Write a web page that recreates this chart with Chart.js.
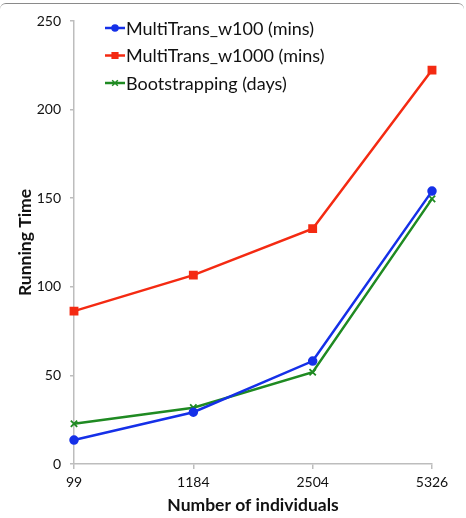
<!DOCTYPE html>
<html>
<head>
<meta charset="utf-8">
<script src="https://cdn.jsdelivr.net/npm/chart.js@4/dist/chart.umd.min.js"></script>
<style>
  html, body { margin: 0; padding: 0; background: #fff; }
  #wrap { position: relative; width: 466px; height: 518px; overflow: hidden; }
  #frame { position: absolute; left: 0; top: 3px; width: 464px; height: 10px;
           border-top: 1.5px solid #8a8a8a; border-radius: 6px 6px 0 0; box-sizing: border-box; }
  canvas { position: absolute; left: 0; top: 0; }
</style>
</head>
<body>
<div id="wrap">
  <canvas id="chart" width="466" height="518"></canvas>
  <div id="frame"></div>
</div>
<script>
const categories = ['99', '1184', '2504', '5326']
const w100 = [13.5, 29.2, 58.1, 154]
const w1000 = [86.3, 106.6, 132.8, 222.3]
const bootstrapping = [22.7, 31.8, 51.8, 149.6]
const seriesNames = ['MultiTrans_w100 (mins)', 'MultiTrans_w1000 (mins)', 'Bootstrapping (days)']

const FONT = 'Lato, "Liberation Sans", sans-serif'

// legend drawn inside the plot, top-left, like the original
const innerLegend = {
  id: 'innerLegend',
  afterDraw(chart) {
    const ctx = chart.ctx
    const x0 = 105
    let y = 28
    chart.data.datasets.forEach(ds => {
      ctx.save()
      ctx.strokeStyle = ds.borderColor
      ctx.lineWidth = 2.5
      ctx.beginPath()
      ctx.moveTo(x0, y)
      ctx.lineTo(x0 + 20, y)
      ctx.stroke()
      ctx.fillStyle = ds.backgroundColor
      ctx.lineWidth = 1.5
      Chart.helpers.drawPoint(ctx, {
        pointStyle: ds.pointStyle, radius: ds.pointRadius - 0.5, rotation: 0, borderWidth: 1.5
      }, x0 + 10, y)
      ctx.fillStyle = '#111'
      ctx.font = '18px ' + FONT
      ctx.textBaseline = 'middle'
      ctx.fillText(ds.label, x0 + 21, y + 1)
      ctx.restore()
      y += 27.5
    })
  }
}

new Chart(document.getElementById('chart'), {
  type: 'line',
  data: {
    labels: categories,
    datasets: [{
      label: seriesNames[0],
      data: w100,
      borderColor: '#1530e8',
      backgroundColor: '#1530e8',
      pointStyle: 'circle',
      pointRadius: 3.5,
      borderWidth: 2.5
    }, {
      label: seriesNames[1],
      data: w1000,
      borderColor: '#f42a12',
      backgroundColor: '#f42a12',
      pointStyle: 'rect',
      pointRadius: 4.5,
      borderWidth: 2.5
    }, {
      label: seriesNames[2],
      data: bootstrapping,
      borderColor: '#1f8a22',
      backgroundColor: '#1f8a22',
      pointStyle: 'crossRot',
      pointRadius: 4.5,
      pointBorderWidth: 1.8,
      borderWidth: 2.5
    }]
  },
  options: {
    responsive: false,
    animation: false,
    layout: { padding: { left: 0, right: 34, top: 21, bottom: 0 } },
    plugins: {
      legend: { display: false },
      tooltip: { enabled: false }
    },
    elements: { line: { tension: 0 } },
    scales: {
      x: {
        offset: false,
        afterFit: s => { s.height = 54 },
        border: { color: '#bdbdbd', width: 1.5 },
        grid: { drawOnChartArea: false, color: '#bdbdbd', tickLength: 5, lineWidth: 1.5 },
        ticks: { color: '#111', font: { family: FONT, size: 14 }, padding: 5, maxRotation: 0 },
        title: {
          display: true, text: 'Number of individuals', color: '#111',
          font: { family: FONT, size: 17.5, weight: 'bold' }, padding: { top: 0, bottom: 2 }
        }
      },
      y: {
        min: 0, max: 250,
        afterFit: s => { s.width = 74 },
        border: { color: '#bdbdbd', width: 1.5 },
        grid: { drawOnChartArea: false, color: '#bdbdbd', tickLength: 4, lineWidth: 1.5 },
        ticks: { stepSize: 50, color: '#111', font: { family: FONT, size: 14 }, padding: 9 },
        title: {
          display: true, text: 'Running Time', color: '#111',
          font: { family: FONT, size: 17.5, weight: 'bold' }, padding: { top: 15, bottom: 0 }
        }
      }
    }
  },
  plugins: [innerLegend]
})
</script>
</body>
</html>
